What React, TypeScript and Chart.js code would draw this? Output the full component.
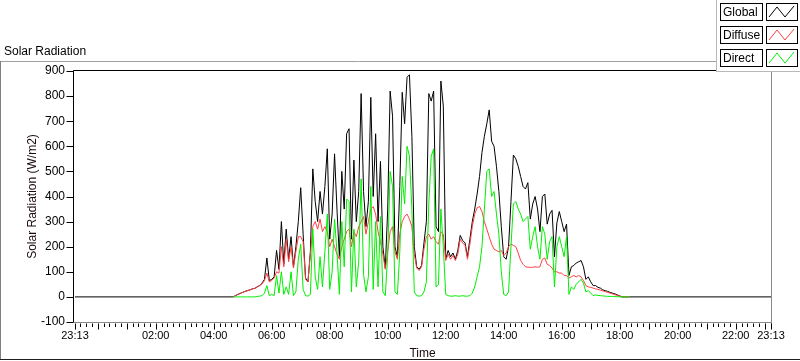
import React, { useEffect, useRef } from "react";
import { Chart, registerables } from "chart.js";

Chart.register(...registerables);

// ---------------- data ----------------
const chartTitle = "Solar Radiation";
const xAxisTitle = "Time";
const yAxisTitle = "Solar Radiation (W/m2)";
const axisOrigin = "23:13"; // the axis spans one full day starting here
const xTickLabels = ["23:13", "02:00", "04:00", "06:00", "08:00", "10:00", "12:00", "14:00", "16:00", "18:00", "20:00", "22:00", "23:13"];
const yTickValues = [-100, 0, 100, 200, 300, 400, 500, 600, 700, 800, 900];
const seriesNames = ["Global", "Diffuse", "Direct"];

const dayStart = "04:40";
const stepMinutes = 5;

const globalValues = [
  0, 5, 10, 14, 18, 22, 25, 28, 32, 34,
  40, 45, 55, 70, 155, 65, 70, 80, 185, 110,
  300, 130, 270, 150, 240, 120, 200, 300, 435, 250,
  75, 60, 180, 510, 380, 300, 420, 330, 440, 590,
  230, 330, 570, 350, 160, 500, 350, 650, 670, 230,
  545, 300, 420, 810, 420, 280, 380, 795, 400, 650,
  300, 540, 200, 115, 350, 820, 720, 200, 160, 440,
  815, 690, 875, 885, 640, 200, 120, 110, 125, 215,
  300, 810, 780, 820, 280, 260, 860, 760, 150, 185,
  160, 175, 150, 185, 245, 225, 215, 160, 230, 300,
  350, 410, 480, 575, 640, 690, 745, 620, 600, 520,
  420, 280, 160, 150, 200, 380, 565, 550, 520, 480,
  440, 430, 455, 310, 370, 400, 350, 260, 400, 410,
  290, 330, 345, 160, 295, 340, 300, 260, 290, 85,
  120, 125, 135, 140, 145, 120, 70, 80, 60, 45,
  45, 38, 35, 28, 25, 22, 18, 15, 12, 8,
  4, 0, 0, 0, 0,
];

const diffuseValues = [
  0, 5, 10, 14, 18, 22, 25, 28, 32, 34,
  40, 45, 52, 65, 95, 60, 65, 75, 100, 95,
  200, 120, 230, 140, 200, 115, 180, 240, 240, 220,
  70, 60, 170, 280, 300, 270, 310, 260, 280, 260,
  200, 230, 200, 170, 150, 200, 230, 260, 270, 200,
  260, 240, 280, 300, 320, 250, 300, 350, 360, 330,
  260, 220, 170, 110, 180, 260, 280, 180, 150, 250,
  300, 320, 330, 310, 280, 170, 115, 105, 120, 190,
  240, 250, 230, 240, 220, 210, 260, 250, 145, 170,
  150, 165, 145, 170, 230, 215, 205, 150, 210, 280,
  330, 355, 360, 340, 300, 270, 240, 210, 190, 185,
  180, 185, 165, 175, 200, 210, 205, 200, 175, 145,
  130, 120, 118, 118, 118, 120, 118, 120, 150, 155,
  130, 125, 115, 100, 100, 95, 95, 85, 85, 75,
  80, 85, 80, 85, 80, 65, 45, 40, 38, 35,
  32, 30, 27, 24, 21, 18, 15, 12, 9, 6,
  3, 0, 0, 0, 0,
];

const directValues = [
  0, 0, 0, 0, 0, 0, 0, 0, 0, 0,
  2, 3, 5, 15, 45, 5, 10, 5, 85, 15,
  100, 10, 40, 10, 100, 5, 20, 150, 210, 30,
  5, 3, 10, 270, 80, 30, 160, 40, 180, 330,
  30, 100, 310, 180, 10, 300, 120, 390, 380, 20,
  270, 40, 140, 470, 90, 20, 80, 440, 30, 300,
  40, 320, 20, 5, 170, 500, 440, 20, 10, 180,
  480, 370, 600, 560, 350, 20, 5, 3, 5, 20,
  60, 370, 560, 590, 40, 50, 350, 200, 10, 5,
  3, 3, 5, 3, 3, 5, 3, 3, 5, 15,
  40, 80, 120, 200, 350, 500, 510, 400, 420, 330,
  250, 100, 10, 5, 20, 200, 370, 380, 350, 330,
  300, 310, 320, 190, 240, 280, 200, 150, 280, 250,
  150, 220, 240, 40, 200, 240, 200, 160, 240, 10,
  40, 30, 50, 60, 70, 55, 20, 25, 15, 5,
  8, 6, 5, 4, 3, 2, 2, 2, 1, 1,
  0, 0, 0, 0, 0,
];

// ---------------- helpers ----------------
const DAY = 1440;
const toMinutes = (t: string) => {
  const [h, m] = t.split(":").map(Number);
  return h * 60 + m;
};
const ORIGIN = toMinutes(axisOrigin);
const sinceOrigin = (t: string) => (toMinutes(t) - ORIGIN + DAY) % DAY;
const pad = (n: number) => String(n).padStart(2, "0");
const fmt = (m: number) => {
  const t = (Math.round(m) + ORIGIN) % DAY;
  return pad(Math.floor(t / 60)) + ":" + pad(t % 60);
};
const xTickValues = xTickLabels.map((t, i) => (i === xTickLabels.length - 1 ? DAY : sinceOrigin(t)));
const dayStartMin = sinceOrigin(dayStart);
const toPoints = (vals: number[]) => vals.map((v, i) => ({ x: dayStartMin + i * stepMinutes, y: v }));

const FONT = '"Liberation Sans", Arial, sans-serif';
const TEXT = "#000";

const colors = ["#000000", "#ff4040", "#00f000"];

const decorPlugin = {
  id: "decor",
  beforeDraw(chart: any) {
    const ctx = chart.ctx;
    ctx.save();
    ctx.fillStyle = "#fff";
    ctx.fillRect(0, 0, chart.width, chart.height);
    ctx.restore();
  },
  afterDraw(chart: any) {
    const { ctx, chartArea: ca, scales } = chart;
    const xs = scales.x;
    const ys = scales.y;
    const seg = (x1: number, y1: number, x2: number, y2: number, c: string) => {
      ctx.strokeStyle = c;
      ctx.beginPath();
      ctx.moveTo(x1, y1);
      ctx.lineTo(x2, y2);
      ctx.stroke();
    };
    ctx.save();
    ctx.lineWidth = 1;

    // plot frame
    const L = ca.left - 1.5;
    const T = ca.top - 0.5;
    const R = ca.right + 0.5;
    const B = ca.bottom + 0.5;
    seg(L, T, R + 1, T, "#000");
    seg(L, T, L, B, "#000");
    seg(L, B, R + 0.5, B, "#8a8a8a");
    seg(R, T, R, B, "#8a8a8a");

    // y ticks
    for (const v of yTickValues) {
      const py = Math.round(ys.getPixelForValue(v)) + 0.5;
      seg(L - 7, py, L, py, "#000");
    }
    // x ticks (12-minute minor ticks aligned to the hour)
    const first = xTickValues[1] % 12;
    const marks: number[] = [0];
    for (let m = first; m < DAY; m += 12) if (m > 0) marks.push(m);
    marks.push(DAY);
    for (const m of marks) {
      const px = Math.round(xs.getPixelForValue(m)) + 0.5;
      const isHour = m === 0 || m === DAY || (m - xTickValues[1]) % 60 === 0;
      seg(px, B + 1, px, B + (isHour ? 7 : 4.5), "#000");
    }

    // axis titles
    ctx.fillStyle = "#1a0a0a";
    ctx.font = `12px ${FONT}`;
    ctx.textAlign = "center";
    ctx.textBaseline = "middle";
    ctx.fillText(xAxisTitle, (L + R) / 2, 354);
    ctx.save();
    ctx.translate(33, (T + B) / 2);
    ctx.rotate(-Math.PI / 2);
    ctx.fillText(yAxisTitle, 0, 0);
    ctx.restore();

    // outer panel frame
    seg(0, 61.5, 717, 61.5, "#a0a0a0");
    seg(0.5, 61, 0.5, 360, "#808080");
    seg(0, 359.5, 800, 359.5, "#202020");

    // chart title
    ctx.fillStyle = TEXT;
    ctx.textAlign = "left";
    ctx.textBaseline = "alphabetic";
    ctx.fillText(chartTitle, 4, 55);

    // legend
    ctx.fillStyle = "#fff";
    ctx.fillRect(717, 0, 83, 71);
    seg(716.5, 0, 716.5, 72, "#b8b8b8");
    seg(716, 71.5, 800, 71.5, "#b8b8b8");
    seriesNames.forEach((name, k) => {
      const y0 = 3 + 23 * k;
      ctx.strokeStyle = "#000";
      ctx.strokeRect(720.5, y0 + 0.5, 42, 17);
      ctx.strokeRect(766.5, y0 + 0.5, 31, 17);
      ctx.fillStyle = TEXT;
      ctx.textAlign = "left";
      ctx.textBaseline = "middle";
      ctx.fillText(name, 723, y0 + 9.5);
      ctx.strokeStyle = colors[k];
      ctx.beginPath();
      ctx.moveTo(769, y0 + 14);
      ctx.lineTo(777, y0 + 4);
      ctx.lineTo(785, y0 + 14);
      ctx.lineTo(794, y0 + 3);
      ctx.stroke();
    });

    ctx.restore();
  },
};

export default function App() {
  const ref = useRef<HTMLCanvasElement | null>(null);
  useEffect(() => {
    if (!ref.current) return;
    const chart = new Chart(ref.current, {
      type: "line",
      data: {
        datasets: [
          {
            label: seriesNames[0],
            data: [{ x: 0, y: 0 }, ...toPoints(globalValues), { x: DAY, y: 0 }],
            borderColor: colors[0],
            order: 2,
          },
          {
            label: seriesNames[1],
            data: toPoints(diffuseValues),
            borderColor: colors[1],
            order: 1,
          },
          {
            label: seriesNames[2],
            data: toPoints(directValues),
            borderColor: colors[2],
            order: 0,
          },
        ],
      },
      options: {
        animation: false,
        responsive: false,
        maintainAspectRatio: false,
        devicePixelRatio: 1,
        parsing: false,
        normalized: true,
        layout: { padding: { left: 0, right: 29, top: 71, bottom: 0 } },
        plugins: {
          legend: { display: false },
          tooltip: { enabled: false },
          title: { display: false },
        },
        elements: {
          point: { radius: 0 },
          line: { borderWidth: 1, tension: 0, fill: false },
        },
        scales: {
          x: {
            type: "linear",
            min: 0,
            max: DAY,
            afterBuildTicks: (s: any) => {
              s.ticks = xTickValues.map((v) => ({ value: v }));
            },
            afterFit: (s: any) => {
              s.height = 39;
            },
            ticks: {
              autoSkip: false,
              maxRotation: 0,
              minRotation: 0,
              padding: 1,
              color: TEXT,
              font: { family: FONT, size: 11 },
              callback: (v: any) => fmt(Number(v)),
            },
            grid: { display: true, drawOnChartArea: false, drawTicks: true, tickLength: 6, color: "rgba(0,0,0,0)" },
            border: { display: false },
          },
          y: {
            type: "linear",
            min: -100,
            max: 900,
            afterBuildTicks: (s: any) => {
              s.ticks = yTickValues.map((v) => ({ value: v }));
            },
            afterFit: (s: any) => {
              s.width = 75;
            },
            ticks: {
              padding: 2,
              color: TEXT,
              font: { family: FONT, size: 12 },
            },
            grid: { display: true, drawOnChartArea: false, drawTicks: true, tickLength: 8, color: "rgba(0,0,0,0)" },
            border: { display: false },
          },
        },
      },
      plugins: [decorPlugin],
    });
    return () => chart.destroy();
  }, []);

  return (
    <div style={{ position: "fixed", left: 0, top: 0, width: 800, height: 361, background: "#fff" }}>
      <canvas ref={ref} width={800} height={361} style={{ display: "block", width: 800, height: 361 }} />
    </div>
  );
}
